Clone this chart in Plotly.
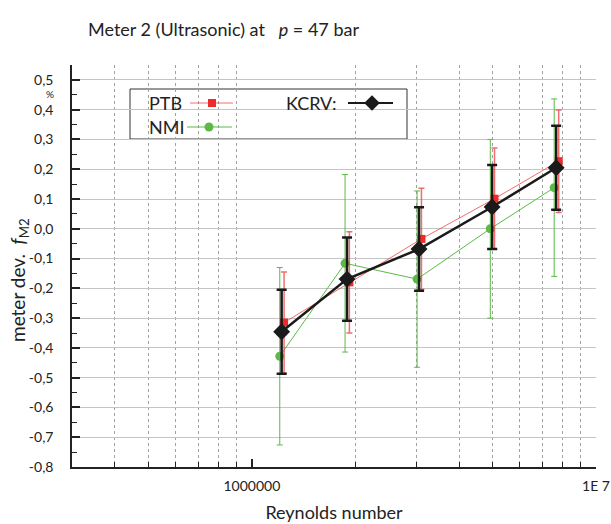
import plotly.graph_objects as go
import math

# ---- data ----
re_kcrv = [1.22e6, 1.89e6, 3.06e6, 4.99e6, 7.66e6]
re_ptb = [1.24e6, 1.92e6, 3.11e6, 5.07e6, 7.79e6]
re_nmi = [1.205e6, 1.865e6, 3.02e6, 4.93e6, 7.56e6]

kcrv = [-0.346, -0.169, -0.068, 0.073, 0.205]
kcrv_u = [0.141, 0.140, 0.140, 0.141, 0.141]
ptb = [-0.315, -0.180, -0.034, 0.101, 0.227]
ptb_u = [0.170, 0.170, 0.170, 0.170, 0.172]
nmi = [-0.428, -0.116, -0.169, 0.000, 0.138]
nmi_u = [0.298, 0.298, 0.296, 0.300, 0.298]

ytick_vals = [0.5, 0.4, 0.3, 0.2, 0.1, 0.0, -0.1, -0.2, -0.3, -0.4, -0.5, -0.6, -0.7, -0.8]
ytick_text = ["0,5", "0,4", "0,3", "0,2", "0,1", "0,0", "-0,1", "-0,2", "-0,3", "-0,4",
              "-0,5", "-0,6", "-0,7", "-0,8"]
xtick_vals = [1e6, 1e7]
xtick_text = ["1000000", "1E 7"]
x_minor = [4e5, 5e5, 6e5, 7e5, 8e5, 9e5, 2e6, 3e6, 4e6, 5e6, 6e6, 7e6, 8e6, 9e6]

RED = "#ee2b2b"
RED_L = "rgba(238,60,60,0.75)"
GREEN = "#5cb947"
BLACK = "#1a1a1a"
FONT = "Lato"

fig = go.Figure()

fig.add_trace(go.Scatter(
    x=re_nmi, y=nmi, mode="lines+markers", name="NMI", showlegend=False,
    line=dict(color=GREEN, width=1),
    marker=dict(symbol="circle", size=9, color=GREEN),
    error_y=dict(type="data", array=nmi_u, color=GREEN, thickness=1, width=3),
))
fig.add_trace(go.Scatter(
    x=re_ptb, y=ptb, mode="lines+markers", name="PTB", showlegend=False,
    line=dict(color=RED_L, width=1),
    marker=dict(symbol="square", size=8, color=RED),
    error_y=dict(type="data", array=ptb_u, color=RED_L, thickness=1.5, width=3),
))
fig.add_trace(go.Scatter(
    x=re_kcrv, y=kcrv, mode="lines+markers", name="KCRV", showlegend=False,
    line=dict(color=BLACK, width=2.5),
    marker=dict(symbol="diamond", size=13, color=BLACK),
    error_y=dict(type="data", array=kcrv_u, color=BLACK, thickness=2.5, width=5),
))

# ---- custom legend (overlay axes 0..1) ----
def px2x(px):
    return (px - 72) / 524.0

def py2y(py):
    return (467 - py) / 402.0

leg_items = [
    ("PTB", 147, 103, 190, 233, 212, RED_L, 1, "square", 8, RED),
    ("NMI", 147, 127, 187, 232, 209, GREEN, 1, "circle", 9, GREEN),
    ("KCRV:", 284, 103, 348, 393, 372, BLACK, 2, "diamond", 12, BLACK),
]
for name, tx, ty, l0, l1, mx, lc, lw, sym, ms, mc in leg_items:
    fig.add_trace(go.Scatter(
        x=[px2x(l0), px2x(l1)], y=[py2y(ty), py2y(ty)], mode="lines",
        line=dict(color=lc, width=lw), xaxis="x2", yaxis="y2",
        showlegend=False, hoverinfo="skip"))
    fig.add_trace(go.Scatter(
        x=[px2x(mx)], y=[py2y(ty)], mode="markers",
        marker=dict(symbol=sym, size=ms, color=mc), xaxis="x2", yaxis="y2",
        showlegend=False, hoverinfo="skip"))
    fig.add_annotation(text=name, xref="paper", yref="paper", x=px2x(tx), y=py2y(ty),
                       xanchor="left", yanchor="middle", showarrow=False,
                       font=dict(family=FONT, size=18, color="#222"))

fig.add_shape(type="rect", xref="paper", yref="paper",
              x0=px2x(130), x1=px2x(407), y0=py2y(139), y1=py2y(89),
              line=dict(color="#333", width=1), fillcolor="white", layer="between")

# major vertical gridline at 1e6
fig.add_shape(type="line", xref="x", yref="paper", x0=math.log10(xtick_vals[0]),
              x1=math.log10(xtick_vals[0]), y0=0, y1=1,
              line=dict(color="#b0b0b0", width=1.2), layer="below")

fig.update_layout(
    width=611, height=524,
    margin=dict(l=72, r=15, t=65, b=57, autoexpand=False),
    paper_bgcolor="white", plot_bgcolor="white",
    font=dict(family=FONT, size=14, color="#222"),
    title=dict(text="Meter 2 (Ultrasonic) at&nbsp;&nbsp; <i>p</i> = 47 bar",
               x=88 / 611, xanchor="left", y=1 - 30 / 524, yanchor="middle",
               font=dict(family=FONT, size=18, color="#222")),
    xaxis=dict(
        type="log", range=[math.log10(3e5), 7], automargin=False,
        tickmode="array", tickvals=xtick_vals, ticktext=xtick_text,
        ticks="inside", ticklen=8, tickwidth=1.5, tickcolor="#222",
        showline=True, linecolor="#222", linewidth=1.5,
        showgrid=False, zeroline=False, ticklabelstandoff=5,
        minor=dict(tickmode="array", tickvals=x_minor, ticks="inside", ticklen=5,
                   tickwidth=1, tickcolor="#222", showgrid=True,
                   gridcolor="#a0a0a0", griddash="dot", gridwidth=1),
        title=dict(text="Reynolds number", font=dict(size=18), standoff=14),
        tickfont=dict(size=14),
    ),
    yaxis=dict(
        range=[-0.8, 0.55], automargin=False,
        tickmode="array", tickvals=ytick_vals, ticktext=ytick_text,
        ticks="inside", ticklen=8, tickwidth=1.5, tickcolor="#222",
        showline=True, linecolor="#222", linewidth=1.5, ticklabelstandoff=14,
        showgrid=True, gridcolor="#c4c4c4", gridwidth=1.3, zeroline=False,
        minor=dict(dtick=0.05, tick0=0, ticks="inside", ticklen=5, tickwidth=1,
                   tickcolor="#222", showgrid=False),
        tickfont=dict(size=14),
    ),
    xaxis2=dict(overlaying="x", range=[0, 1], visible=False),
    yaxis2=dict(overlaying="y", range=[0, 1], visible=False),
)

fig.add_annotation(text="meter dev.&nbsp;&nbsp;<i>f</i><sub>M2</sub>", textangle=-90,
                   xref="paper", yref="paper", x=px2x(19), y=py2y(280),
                   xanchor="center", yanchor="middle", showarrow=False,
                   font=dict(family=FONT, size=19, color="#222"))
fig.add_annotation(text="%", xref="paper", yref="paper", x=px2x(50), y=py2y(94.5),
                   xanchor="center", yanchor="middle", showarrow=False, borderpad=0,
                   font=dict(family=FONT, size=10, color="#222"))

fig.write_html("out.html")
